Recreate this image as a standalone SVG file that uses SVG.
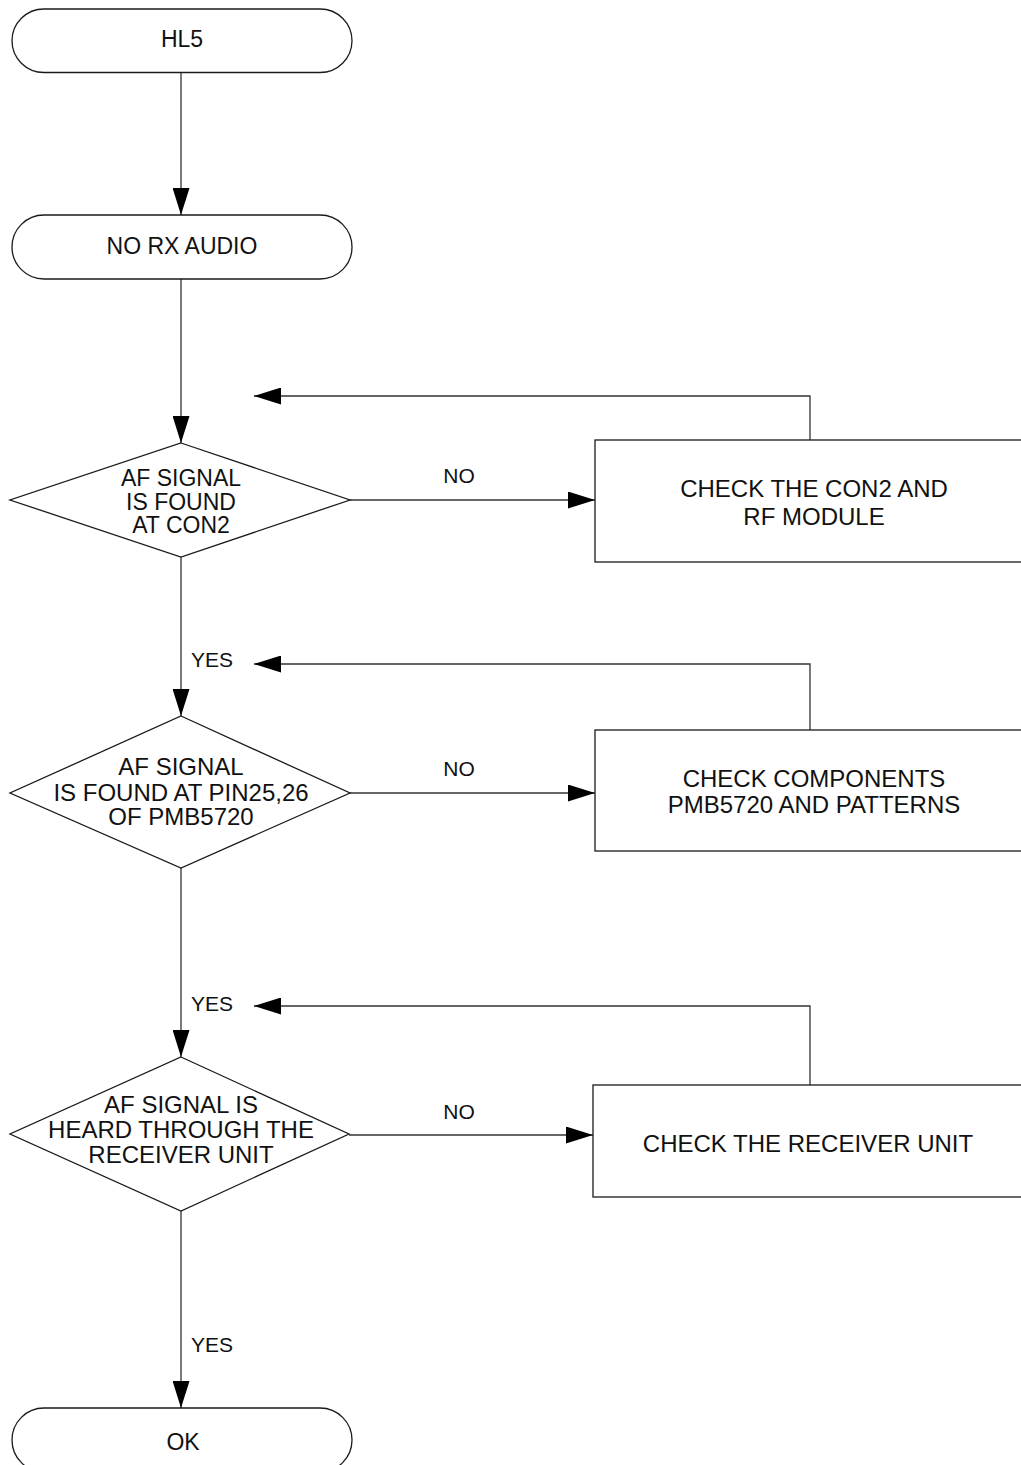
<svg xmlns="http://www.w3.org/2000/svg" width="1021" height="1465" viewBox="0 0 1021 1465">
  <style>
    .shape { fill: #ffffff; stroke: #1a1a1a; stroke-width: 1.3; }
    .conn { fill: none; stroke: #333333; stroke-width: 1.3; }
    .t { font-family: "Liberation Sans", Arial, sans-serif; font-size: 23px; fill: #111111; text-anchor: middle; }
    .tb { font-family: "Liberation Sans", Arial, sans-serif; font-size: 24px; fill: #111111; text-anchor: middle; }
    .lbl { font-family: "Liberation Sans", Arial, sans-serif; font-size: 21px; fill: #111111; text-anchor: middle; }
  </style>
  <defs>
    <marker id="arrow" viewBox="0 0 27 17" refX="27" refY="8.5" markerWidth="27" markerHeight="17" markerUnits="userSpaceOnUse" orient="auto">
      <path d="M0,0 L27,8.5 L0,17 Z" fill="#000000"/>
    </marker>
  </defs>
  <rect width="1021" height="1465" fill="#ffffff"/>

  <g id="connectors">
    <line class="conn" x1="181" y1="72.5" x2="181" y2="215" marker-end="url(#arrow)"/>
    <line class="conn" x1="181" y1="279" x2="181" y2="443" marker-end="url(#arrow)"/>
    <line class="conn" x1="350" y1="500" x2="595" y2="500" marker-end="url(#arrow)"/>
    <polyline class="conn" points="810,440 810,396 254,396" marker-end="url(#arrow)"/>
    <line class="conn" x1="181" y1="557" x2="181" y2="716" marker-end="url(#arrow)"/>
    <line class="conn" x1="350" y1="793" x2="595" y2="793" marker-end="url(#arrow)"/>
    <polyline class="conn" points="810,730 810,664 254,664" marker-end="url(#arrow)"/>
    <line class="conn" x1="181" y1="868" x2="181" y2="1057" marker-end="url(#arrow)"/>
    <line class="conn" x1="349" y1="1135" x2="593" y2="1135" marker-end="url(#arrow)"/>
    <polyline class="conn" points="810,1085 810,1006 254,1006" marker-end="url(#arrow)"/>
    <line class="conn" x1="181" y1="1211" x2="181" y2="1408" marker-end="url(#arrow)"/>
    <text class="lbl" x="459" y="483">NO</text>
    <text class="lbl" x="212" y="667">YES</text>
    <text class="lbl" x="459" y="776">NO</text>
    <text class="lbl" x="212" y="1011">YES</text>
    <text class="lbl" x="459" y="1119">NO</text>
    <text class="lbl" x="212" y="1352">YES</text>
  </g>

  <g id="start">
    <rect class="shape" x="12" y="9" width="340" height="63.5" rx="32" ry="32"/>
    <text class="t" x="182" y="47">HL5</text>
  </g>

  <g id="no-rx-audio">
    <rect class="shape" x="12" y="215" width="340" height="64" rx="32" ry="32"/>
    <text class="t" x="182" y="254">NO RX AUDIO</text>
  </g>

  <g id="decision-con2">
    <polygon class="shape" points="181,443 350,500 181,557 10,500"/>
    <text class="t" x="181" y="486">AF SIGNAL</text>
    <text class="t" x="181" y="509.5">IS FOUND</text>
    <text class="t" x="181" y="533">AT CON2</text>
  </g>

  <g id="box-con2">
    <rect class="shape" x="595" y="440" width="440" height="122"/>
    <text class="tb" x="814" y="497">CHECK THE CON2 AND</text>
    <text class="tb" x="814" y="525">RF MODULE</text>
  </g>

  <g id="decision-pin">
    <polygon class="shape" points="181,716 350,793 181,868 10,793"/>
    <text class="tb" x="181" y="775">AF SIGNAL</text>
    <text class="tb" x="181" y="800.5">IS FOUND AT PIN25,26</text>
    <text class="tb" x="181" y="825">OF PMB5720</text>
  </g>

  <g id="box-pmb">
    <rect class="shape" x="595" y="730" width="440" height="121"/>
    <text class="tb" x="814" y="787">CHECK COMPONENTS</text>
    <text class="tb" x="814" y="813">PMB5720 AND PATTERNS</text>
  </g>

  <g id="decision-receiver">
    <polygon class="shape" points="181,1057 349,1134 181,1211 10,1134"/>
    <text class="tb" x="181" y="1112.5">AF SIGNAL IS</text>
    <text class="tb" x="181" y="1137.5">HEARD THROUGH THE</text>
    <text class="tb" x="181" y="1162.5">RECEIVER UNIT</text>
  </g>

  <g id="box-receiver">
    <rect class="shape" x="593" y="1085" width="442" height="112"/>
    <text class="tb" x="808" y="1152">CHECK THE RECEIVER UNIT</text>
  </g>

  <g id="ok">
    <rect class="shape" x="12" y="1408" width="340" height="64" rx="32" ry="32"/>
    <text class="t" x="183" y="1450">OK</text>
  </g>
</svg>
